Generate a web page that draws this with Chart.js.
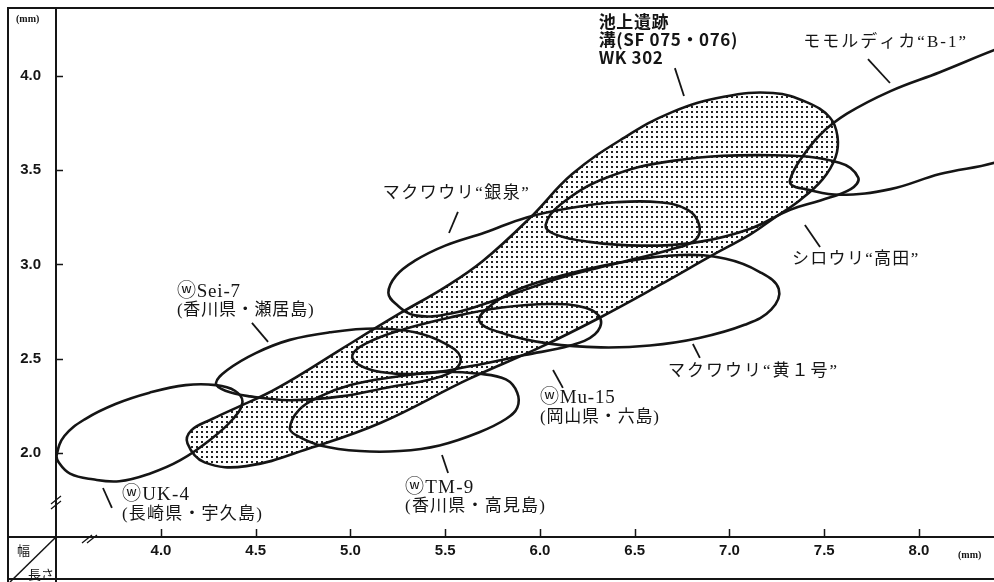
<!DOCTYPE html>
<html>
<head>
<meta charset="utf-8">
<script src="https://cdn.jsdelivr.net/npm/chart.js@4.4.0/dist/chart.umd.min.js"></script>
<style>
  html, body { margin: 0; padding: 0; background: #fff; }
  #wrap { width: 994px; height: 582px; }
</style>
</head>
<body>
<div id="wrap"><canvas id="chart"></canvas></div>
<script>
// seed length (x, mm) against seed width (y, mm)
const xTicks = [4.0, 4.5, 5.0, 5.5, 6.0, 6.5, 7.0, 7.5, 8.0];
const yTicks = [2.0, 2.5, 3.0, 3.5, 4.0];
const X_MIN = 3.446, X_MAX = 8.396;
const Y_MIN = 1.554, Y_MAX = 4.361;

// 池上遺跡 溝(SF 075・076) WK 302
const ikegamiLen = [4.14,4.16,4.27,4.42,4.55,4.71,4.95,5.26,5.50,5.70,5.95,6.17,6.44,6.70,6.97,7.23,7.41,7.53,7.57,7.56,7.49,7.37,7.24,7.11,6.91,6.63,6.32,6.00,5.62,5.16,4.80,4.45,4.23];
const ikegamiWid = [2.05,2.12,2.18,2.25,2.31,2.40,2.55,2.74,2.88,3.02,3.25,3.48,3.67,3.81,3.89,3.91,3.86,3.78,3.68,3.57,3.45,3.34,3.25,3.16,3.05,2.89,2.72,2.56,2.39,2.16,2.03,1.93,1.95];

// モモルディカ B-1
const b1Len = [7.32,7.37,7.48,7.62,7.85,8.11,8.43,8.64,8.85,8.64,8.43,8.11,7.85,7.58,7.40,7.33];
const b1Wid = [3.45,3.55,3.69,3.80,3.92,4.02,4.15,4.22,4.03,3.66,3.55,3.48,3.40,3.37,3.40,3.42];

// シロウリ 高田
const takadaLen = [6.03,6.11,6.35,6.70,7.23,7.58,7.68,7.64,7.48,7.32,7.11,6.84,6.53,6.26,6.08];
const takadaWid = [3.21,3.32,3.46,3.55,3.58,3.54,3.46,3.40,3.34,3.29,3.19,3.12,3.10,3.12,3.16];

// マクワウリ 銀泉
const ginsenLen = [5.20,5.24,5.34,5.50,5.71,5.93,6.16,6.40,6.63,6.78,6.84,6.82,6.69,6.42,6.11,5.79,5.53,5.34,5.24];
const ginsenWid = [2.85,2.94,3.02,3.10,3.17,3.25,3.30,3.33,3.33,3.29,3.21,3.13,3.08,3.01,2.93,2.82,2.74,2.73,2.79];

// マクワウリ 黄1号
const ki1Len = [5.68,5.75,5.89,6.11,6.42,6.74,6.98,7.16,7.26,7.22,7.08,6.84,6.58,6.32,6.05,5.82];
const ki1Wid = [2.70,2.79,2.87,2.94,3.01,3.05,3.03,2.96,2.87,2.76,2.68,2.61,2.57,2.56,2.58,2.63];

// ⓦMu-15 岡山県・六島
const mu15Len = [5.01,5.08,5.26,5.53,5.79,6.05,6.24,6.32,6.29,6.16,5.92,5.63,5.37,5.16,5.04];
const mu15Wid = [2.52,2.58,2.65,2.72,2.77,2.79,2.77,2.71,2.63,2.57,2.52,2.46,2.42,2.43,2.47];

// ⓦSei-7 香川県・瀬居島
const sei7Len = [4.29,4.35,4.50,4.68,4.89,5.13,5.34,5.50,5.58,5.55,5.42,5.21,4.95,4.68,4.47,4.34];
const sei7Wid = [2.37,2.44,2.53,2.60,2.64,2.66,2.64,2.58,2.51,2.44,2.39,2.35,2.30,2.28,2.30,2.33];

// ⓦTM-9 香川県・高見島
const tm9Len = [4.68,4.73,4.84,5.00,5.21,5.47,5.68,5.82,5.88,5.88,5.82,5.68,5.47,5.26,5.05,4.84,4.72];
const tm9Wid = [2.13,2.23,2.30,2.36,2.40,2.43,2.42,2.39,2.32,2.24,2.18,2.11,2.04,2.01,2.01,2.04,2.09];

// ⓦUK-4 長崎県・宇久島
const uk4Len = [3.45,3.49,3.60,3.76,3.94,4.13,4.29,4.39,4.43,4.38,4.26,4.10,3.94,3.78,3.64,3.52,3.46];
const uk4Wid = [1.99,2.09,2.18,2.26,2.32,2.36,2.36,2.33,2.27,2.18,2.07,1.96,1.89,1.85,1.86,1.89,1.95];

const INK = '#151515';
const JP = '"Liberation Serif", "Noto Sans CJK JP"';
const LABEL_FONT = '17px ' + JP;
const HEAD_FONT = '19px ' + JP;

// label text, where it sits (data units) and the short leader line
const notes = [
  { lines: ['池上遺跡', '溝(SF 075・076)', 'WK 302'], x: 6.31, y: 4.29, lh: 18,
    font: 'bold 17px "Noto Sans CJK JP"', head: 'bold 17px "Noto Sans CJK JP"', sp: 0.6,
    lead: [6.712, 4.042, 6.76, 3.894] },
  { lines: ['モモルディカ“B-1”'], x: 7.39, y: 4.18, sp: 2, lead: [7.731, 4.09, 7.847, 3.963] },
  { lines: ['マクワウリ“銀泉”'], x: 5.17, y: 3.379, sp: 1.5, lead: [5.567, 3.279, 5.52, 3.167] },
  { lines: ['シロウリ“高田”'], x: 7.33, y: 3.024, sp: 1.3, lead: [7.398, 3.21, 7.478, 3.093] },
  { lines: ['ⓦSei-7', '(香川県・瀬居島)'], x: 4.084, y: 2.854, lh: 19, head: HEAD_FONT, sp: 0.8,
    lead: [4.48, 2.69, 4.565, 2.589] },
  { lines: ['マクワウリ“黄１号”'], x: 6.675, y: 2.43, sp: 2, lead: [6.807, 2.578, 6.844, 2.504] },
  { lines: ['ⓦMu-15', '(岡山県・六島)'], x: 6.0, y: 2.292, lh: 20, head: HEAD_FONT, sp: 0.8,
    lead: [6.069, 2.44, 6.121, 2.345] },
  { lines: ['ⓦTM-9', '(香川県・高見島)'], x: 5.288, y: 1.814, lh: 19, head: HEAD_FONT, sp: 1.2,
    lead: [5.483, 1.989, 5.515, 1.894] },
  { lines: ['ⓦUK-4', '(長崎県・宇久島)'], x: 3.794, y: 1.777, lh: 20, head: HEAD_FONT, sp: 1.2,
    lead: [3.694, 1.814, 3.741, 1.708] }
];

function dots() {
  const c = document.createElement('canvas');
  c.width = 5; c.height = 5;
  const g = c.getContext('2d');
  g.fillStyle = '#fff';
  g.fillRect(0, 0, 5, 5);
  g.fillStyle = '#222';
  g.fillRect(1, 1, 2, 2);
  return g.createPattern(c, 'repeat');
}

// closed outline: wrap one point on each side so the spline has smooth tangents at the seam
function outline(xs, ys, extra) {
  const pts = xs.map((x, i) => ({ x: x, y: ys[i] }));
  const n = pts.length;
  const data = [pts[n - 1]].concat(pts, [pts[0], pts[1]]);
  const last = data.length - 1;
  return Object.assign({
    data: data,
    showLine: true,
    borderColor: INK,
    borderWidth: 2.6,
    pointRadius: 0,
    tension: 0.4,
    fill: false,
    order: 0,
    segment: {
      borderColor: c => (c.p0DataIndex === 0 || c.p1DataIndex === last) ? 'rgba(0,0,0,0)' : INK
    }
  }, extra || {});
}

const frame = {
  id: 'frame',
  afterDraw(chart) {
    const { ctx, chartArea: a, scales: { x, y } } = chart;
    ctx.save();
    ctx.strokeStyle = INK;
    ctx.fillStyle = INK;
    ctx.lineWidth = 2;
    ctx.beginPath();
    ctx.moveTo(8, 582); ctx.lineTo(8, 8); ctx.lineTo(994, 8);
    ctx.moveTo(8, 579); ctx.lineTo(994, 579);
    ctx.moveTo(8, a.bottom); ctx.lineTo(994, a.bottom);
    ctx.moveTo(a.left, 8); ctx.lineTo(a.left, 582);
    ctx.stroke();

    // inward tick marks
    ctx.lineWidth = 1.5;
    ctx.beginPath();
    xTicks.forEach(v => {
      const px = Math.round(x.getPixelForValue(v)) + 0.5;
      ctx.moveTo(px, a.bottom); ctx.lineTo(px, a.bottom - 8);
    });
    yTicks.forEach(v => {
      const py = Math.round(y.getPixelForValue(v)) + 0.5;
      ctx.moveTo(a.left, py); ctx.lineTo(a.left + 7, py);
    });
    ctx.stroke();

    // axis break marks
    ctx.lineWidth = 1.3;
    ctx.beginPath();
    [[a.left, 500], [a.left, 505]].forEach(p => {
      ctx.moveTo(p[0] - 5, p[1] + 4); ctx.lineTo(p[0] + 5, p[1] - 4);
    });
    [[87, a.bottom + 2], [92, a.bottom + 2]].forEach(p => {
      ctx.moveTo(p[0] - 5, p[1] + 4); ctx.lineTo(p[0] + 5, p[1] - 4);
    });
    ctx.stroke();

    // corner cell: 幅 over 長さ
    ctx.lineWidth = 1.5;
    ctx.beginPath();
    ctx.moveTo(a.left, a.bottom); ctx.lineTo(10, 582);
    ctx.stroke();
    ctx.font = '13px "Noto Sans CJK JP"';
    ctx.textBaseline = 'middle';
    ctx.textAlign = 'left';
    ctx.fillText('幅', 17, 550);
    ctx.fillText('長さ', 28, 574);

    // unit marks
    ctx.font = 'bold 10px "Liberation Serif"';
    ctx.fillText('(mm)', 16, 19);
    ctx.fillText('(mm)', 958, 555);

    // labels with leader lines
    notes.forEach(n => {
      const lx = x.getPixelForValue(n.x);
      let ly = y.getPixelForValue(n.y);
      n.lines.forEach((t, i) => {
        ctx.font = (i === 0 && n.head) ? n.head : (n.font || LABEL_FONT);
        ctx.letterSpacing = (n.sp || 0) + 'px';
        ctx.fillText(t, lx, ly);
        ly += n.lh || 19;
      });
      ctx.letterSpacing = '0px';
      ctx.lineWidth = 1.8;
      ctx.beginPath();
      ctx.moveTo(x.getPixelForValue(n.lead[0]), y.getPixelForValue(n.lead[1]));
      ctx.lineTo(x.getPixelForValue(n.lead[2]), y.getPixelForValue(n.lead[3]));
      ctx.stroke();
    });
    ctx.restore();
  }
};

const tickFont = { family: '"Liberation Sans"', size: 15, weight: 'bold' };

// keep the plot box fixed: no extra room for half-height end labels
function noPad(s) {
  s.paddingTop = 0; s.paddingBottom = 0;
  s.paddingLeft = 0; s.paddingRight = 0;
}

new Chart(document.getElementById('chart'), {
  type: 'scatter',
  data: {
    datasets: [
      outline(ikegamiLen, ikegamiWid, { fill: 'shape', backgroundColor: dots(), order: 1 }),
      outline(b1Len, b1Wid),
      outline(takadaLen, takadaWid),
      outline(ginsenLen, ginsenWid),
      outline(ki1Len, ki1Wid),
      outline(mu15Len, mu15Wid),
      outline(sei7Len, sei7Wid),
      outline(tm9Len, tm9Wid),
      outline(uk4Len, uk4Wid)
    ]
  },
  options: {
    responsive: true,
    maintainAspectRatio: false,
    animation: false,
    layout: { padding: { left: 8, top: 8, right: 0, bottom: 3 } },
    plugins: { legend: { display: false }, tooltip: { enabled: false } },
    elements: { line: { capBezierPoints: false } },
    scales: {
      x: {
        type: 'linear', min: X_MIN, max: X_MAX,
        grid: { display: false, drawTicks: false },
        border: { display: false },
        ticks: { color: INK, font: tickFont, padding: 5, maxRotation: 0, autoSkip: false,
                 callback: v => Number(v).toFixed(1) },
        afterBuildTicks: s => { s.ticks = xTicks.map(v => ({ value: v })); },
        afterFit: s => { s.height = 42; noPad(s); }
      },
      y: {
        type: 'linear', min: Y_MIN, max: Y_MAX,
        grid: { display: false, drawTicks: false },
        border: { display: false },
        ticks: { color: INK, font: tickFont, padding: 15, autoSkip: false,
                 callback: v => Number(v).toFixed(1) },
        afterBuildTicks: s => { s.ticks = yTicks.map(v => ({ value: v })); },
        afterFit: s => { s.width = 48; noPad(s); }
      }
    }
  },
  plugins: [frame]
});
</script>
</body>
</html>
